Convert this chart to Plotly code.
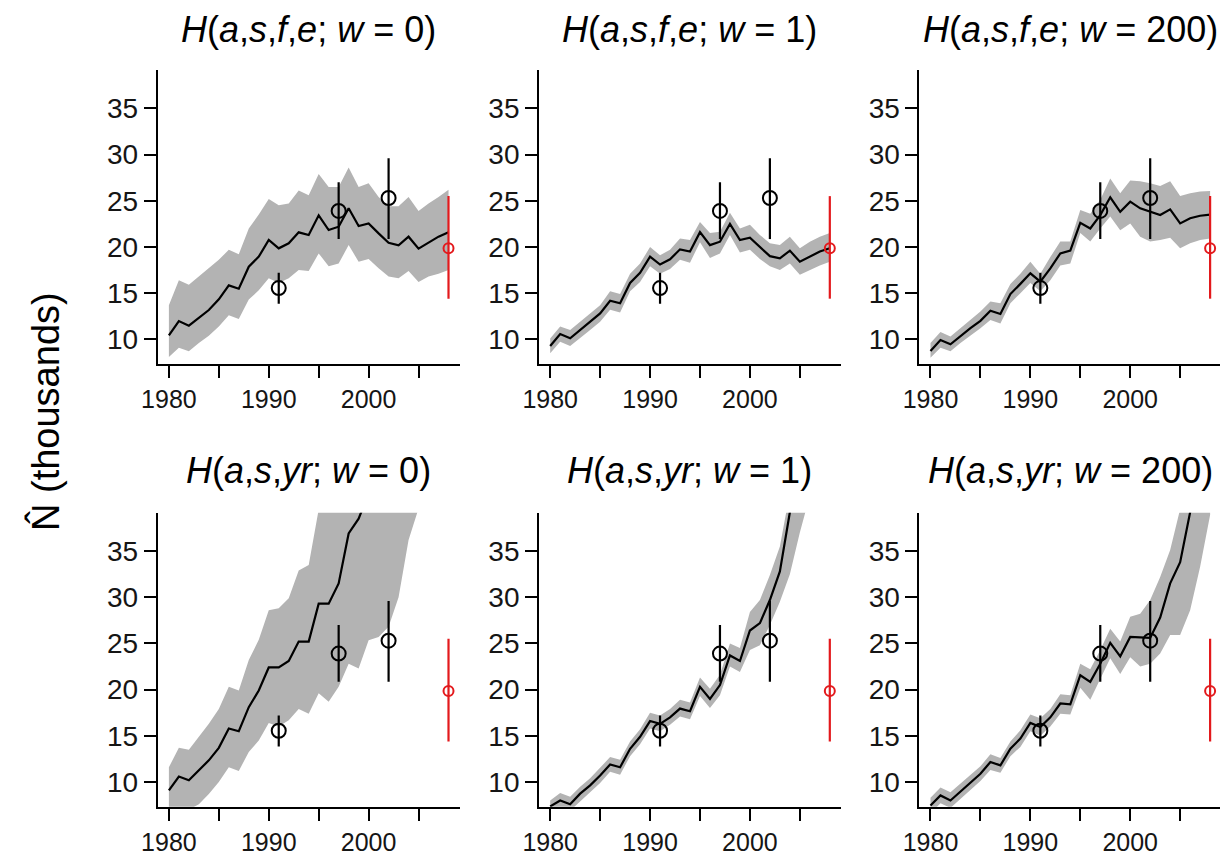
import plotly.graph_objects as go

years = list(range(1980, 2009))

# Top row: H(a,s,f,e; w)
line_w0 = [10.43,11.98,11.48,12.34,13.17,14.33,15.84,15.48,17.86,18.95,20.75,19.85,20.39,21.58,21.29,23.42,21.83,22.19,24.18,22.27,22.55,21.47,20.46,20.17,21.11,19.81,20.46,21.11,21.58]
upper_w0 = [13.7,16.4,15.9,16.8,17.7,18.6,19.7,19.2,22.0,23.5,25.2,24.5,24.7,26.1,25.6,27.9,26.5,26.5,28.6,26.5,26.9,25.4,24.4,24.4,25.4,23.9,24.7,25.4,26.2]
lower_w0 = [8.1,9.1,8.7,9.6,10.4,11.4,12.6,12.2,14.3,15.3,16.6,16.1,16.6,17.5,17.4,19.3,17.9,18.2,20.2,18.4,18.7,17.7,16.8,16.6,17.4,16.2,16.8,17.1,17.5]

line_w1 = [9.28,10.58,10.11,11.0,11.9,12.8,14.18,13.9,16.1,17.2,18.95,18.1,18.66,19.74,19.5,21.6,20.2,20.57,22.5,20.75,21.0,20.03,19.0,18.77,19.6,18.4,18.95,19.5,19.85]
upper_w1 = [10.1,11.4,11.0,11.9,12.8,13.7,15.2,14.9,17.1,18.2,20.0,19.1,19.7,20.9,20.75,22.7,21.5,21.65,23.7,22.0,22.4,21.3,20.4,20.2,21.1,19.85,20.57,21.1,21.5]
lower_w1 = [8.5,9.75,9.28,10.1,11.0,11.9,13.2,12.9,15.2,16.2,17.9,17.1,17.6,18.6,18.3,20.5,18.8,19.3,21.3,19.4,19.7,18.7,17.9,17.5,18.2,17.0,17.5,18.0,18.4]

line_w200 = [8.74,9.93,9.46,10.36,11.2,12.0,13.1,12.74,14.9,16.0,17.14,16.24,17.68,19.3,19.6,22.6,22.0,23.45,25.37,23.8,24.9,24.18,23.8,23.45,24.07,22.55,23.1,23.38,23.5]
upper_w200 = [9.6,10.8,10.3,11.2,12.1,13.0,14.1,13.9,16.0,17.1,18.4,17.1,18.9,20.6,20.6,24.0,23.6,25.1,27.4,25.8,27.2,27.1,26.9,26.6,27.1,25.5,25.8,26.0,26.05]
lower_w200 = [8.0,9.1,8.7,9.6,10.4,11.2,12.1,11.7,13.9,15.0,16.1,15.2,16.4,18.0,18.2,21.5,20.6,22.0,23.3,21.8,22.55,21.1,20.6,20.75,21.0,19.85,20.4,20.75,20.9]

# Bottom row: H(a,s,yr; w)
line_yr0 = [9.1,10.6,10.2,11.3,12.35,13.7,15.8,15.5,18.1,19.9,22.4,22.4,23.1,25.2,25.2,29.3,29.3,31.5,36.9,38.5,41,44,47,50,53,56,59,62,65]
upper_yr0 = [11.6,13.7,13.5,14.9,16.3,17.9,20.3,19.9,23.2,25.4,28.6,28.8,29.9,32.9,33.5,39.5,42,45,48,52,55,58,61,64,67,70,73,76,79]
lower_yr0 = [6.5,7.2,7.0,7.6,8.7,10.0,11.6,11.2,13.25,14.5,16.4,16.0,16.7,17.9,17.4,19.6,18.7,20.3,22.8,22.3,25.35,25.7,26.8,30.0,36.2,39.5,43,47,50]

line_yr1 = [7.36,8.0,7.6,8.74,9.64,10.7,11.9,11.6,13.6,14.9,16.6,16.3,17.0,17.95,17.66,20.3,19.0,20.5,23.7,23.1,26.4,27.2,29.7,32.8,39.2,45,50,55,60]
upper_yr1 = [8.0,8.8,8.4,9.5,10.4,11.5,12.7,12.4,14.4,15.7,17.5,17.2,17.9,18.9,18.6,21.3,20.1,21.6,25.0,24.5,28.4,29.7,32.4,35.5,42,48,53,58,63]
lower_yr1 = [6.7,7.3,6.9,8.0,8.9,9.9,11.1,10.8,12.8,14.1,15.8,15.5,16.2,17.1,16.8,19.3,18.0,19.4,22.5,21.9,24.3,24.8,27.0,29.5,32.5,37.0,41,46,51]

line_yr200 = [7.47,8.55,8.0,9.0,9.9,10.9,12.17,11.8,13.6,14.7,16.4,15.96,17.0,18.5,18.4,21.56,20.84,22.8,25.07,23.6,25.7,25.64,25.6,27.8,31.5,33.8,39.5,45,50]
upper_yr200 = [8.3,9.4,8.9,9.8,10.7,11.7,13.0,12.6,14.4,15.6,17.3,16.9,17.9,19.5,19.4,22.8,22.2,24.3,26.6,25.2,27.9,28.2,29.7,32.2,35.1,39.2,44,49,54]
lower_yr200 = [6.6,7.7,7.2,8.2,9.1,10.1,11.3,11.0,12.8,13.8,15.5,15.0,16.0,17.4,17.3,20.2,18.9,21.2,23.4,21.7,23.5,22.5,22.8,23.9,25.9,25.9,28.6,33.3,38.9]

# Survey estimates (black) and reference estimate (red)
survey_years = [1991, 1997, 2002]
survey_est = [15.55, 23.9, 25.3]
survey_hi = [17.2, 27.0, 29.6]
survey_lo = [13.85, 20.85, 20.85]
ref_year = [2008]
ref_est = [19.85]
ref_hi = [25.5]
ref_lo = [14.4]

titles = [
    "<i>H</i>(<i>a</i>,<i>s</i>,<i>f</i>,<i>e</i>; <i>w</i> = 0)",
    "<i>H</i>(<i>a</i>,<i>s</i>,<i>f</i>,<i>e</i>; <i>w</i> = 1)",
    "<i>H</i>(<i>a</i>,<i>s</i>,<i>f</i>,<i>e</i>; <i>w</i> = 200)",
    "<i>H</i>(<i>a</i>,<i>s</i>,<i>yr</i>; <i>w</i> = 0)",
    "<i>H</i>(<i>a</i>,<i>s</i>,<i>yr</i>; <i>w</i> = 1)",
    "<i>H</i>(<i>a</i>,<i>s</i>,<i>yr</i>; <i>w</i> = 200)",
]
panels = [
    (line_w0, upper_w0, lower_w0),
    (line_w1, upper_w1, lower_w1),
    (line_w200, upper_w200, lower_w200),
    (line_yr0, upper_yr0, lower_yr0),
    (line_yr1, upper_yr1, lower_yr1),
    (line_yr200, upper_yr200, lower_yr200),
]

# page offset of the figure (browser default body margin)
OFF = 8
W, H = 1228 - OFF, 858 - OFF
col_left = [157.7 - OFF, 539.0 - OFF, 919.3 - OFF]
plot_w = 302.0
row_top = [70.0 - OFF, 512.7 - OFF]
plot_h = 294.0
title_y = [30.0 - OFF, 470.0 - OFF]

FONT = "Liberation Sans, Arial, sans-serif"
BAND = "#b3b3b3"
RED = "#e3191c"

fig = go.Figure()
annotations = []
layout_axes = {}

for i, (ln, up, lo) in enumerate(panels):
    r, c = divmod(i, 3)
    k = i + 1
    xa = "x" if k == 1 else f"x{k}"
    ya = "y" if k == 1 else f"y{k}"
    fig.add_trace(go.Scatter(
        x=years + years[::-1], y=up + lo[::-1], fill="toself",
        fillcolor=BAND, line=dict(width=0), mode="lines",
        hoverinfo="skip", xaxis=xa, yaxis=ya))
    fig.add_trace(go.Scatter(
        x=years, y=ln, mode="lines", line=dict(color="black", width=2.2),
        xaxis=xa, yaxis=ya))
    fig.add_trace(go.Scatter(
        x=survey_years, y=survey_est, mode="markers",
        marker=dict(symbol="circle-open", size=14, color="black", line=dict(width=2)),
        error_y=dict(type="data", symmetric=False,
                     array=[h - e for h, e in zip(survey_hi, survey_est)],
                     arrayminus=[e - l for e, l in zip(survey_est, survey_lo)],
                     color="black", thickness=2.2, width=0),
        xaxis=xa, yaxis=ya, cliponaxis=False))
    fig.add_trace(go.Scatter(
        x=ref_year, y=ref_est, mode="markers",
        marker=dict(symbol="circle-open", size=10, color=RED, line=dict(width=2)),
        error_y=dict(type="data", symmetric=False,
                     array=[h - e for h, e in zip(ref_hi, ref_est)],
                     arrayminus=[e - l for e, l in zip(ref_est, ref_lo)],
                     color=RED, thickness=2.2, width=0),
        xaxis=xa, yaxis=ya, cliponaxis=False))

    x0 = col_left[c] / W
    x1 = (col_left[c] + plot_w) / W
    y1 = 1 - row_top[r] / H
    y0 = 1 - (row_top[r] + plot_h) / H
    axkey = "xaxis" if k == 1 else f"xaxis{k}"
    aykey = "yaxis" if k == 1 else f"yaxis{k}"
    layout_axes[axkey] = dict(
        domain=[x0, x1], anchor=ya, range=[1978.88, 2009.12], automargin=False,
        tickvals=[1980, 1985, 1990, 1995, 2000, 2005],
        ticktext=["1980", "", "1990", "", "2000", ""],
        showline=True, linecolor="black", linewidth=1.8,
        ticks="outside", ticklen=12, tickwidth=1.8, tickcolor="black",
        showgrid=False, zeroline=False,
        tickfont=dict(family=FONT, size=25, color="#151515"),
        ticklabelstandoff=0)
    layout_axes[aykey] = dict(
        domain=[y0, y1], anchor=xa, range=[7.33, 39.15], automargin=False,
        tickvals=[10, 15, 20, 25, 30, 35],
        showline=True, linecolor="black", linewidth=1.8,
        ticks="outside", ticklen=12, tickwidth=1.8, tickcolor="black",
        showgrid=False, zeroline=False,
        tickfont=dict(family=FONT, size=28, color="#151515"),
        ticklabelstandoff=0)
    annotations.append(dict(
        text=titles[i], x=(x0 + x1) / 2, y=1 - title_y[r] / H,
        xref="paper", yref="paper", xanchor="center", yanchor="middle",
        showarrow=False, font=dict(family=FONT, size=36, color="black")))

annotations.append(dict(
    text="N\u0302 (thousands)", x=(45 - OFF) / W, y=1 - (412 - OFF) / H,
    xref="paper", yref="paper",
    xanchor="center", yanchor="middle", textangle=-90, showarrow=False,
    font=dict(family=FONT, size=38, color="black")))

fig.update_layout(
    width=W, height=H, margin=dict(l=0, r=0, t=0, b=0, autoexpand=False),
    paper_bgcolor="white", plot_bgcolor="white", showlegend=False,
    annotations=annotations, **layout_axes)

fig.write_html("out.html")
